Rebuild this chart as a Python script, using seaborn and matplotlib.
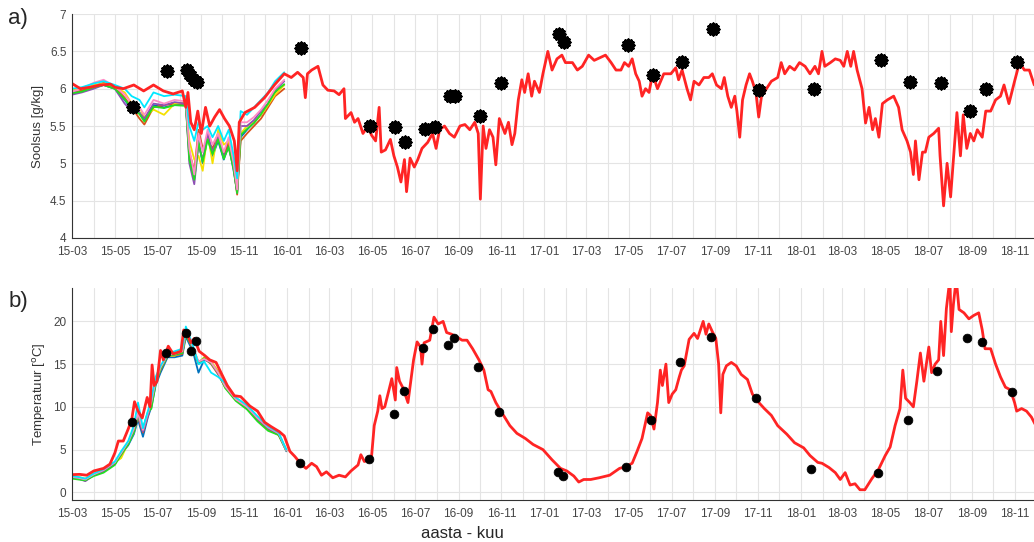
import pandas as pd
import numpy as np
import seaborn as sns
import matplotlib.pyplot as plt
import matplotlib.dates as mdates
from matplotlib.ticker import FuncFormatter

# --- salinity, model (red) ---
sal_dates = [
    '2015-03-01', '2015-03-13', '2015-03-27', '2015-04-10', '2015-04-25', '2015-05-01', '2015-05-13',
    '2015-05-28', '2015-06-11', '2015-06-25', '2015-07-09', '2015-07-23', '2015-08-05', '2015-08-10',
    '2015-08-13', '2015-08-17', '2015-08-22', '2015-08-27', '2015-09-01', '2015-09-07', '2015-09-13',
    '2015-09-20', '2015-09-27', '2015-10-04', '2015-10-11', '2015-10-18', '2015-10-22', '2015-10-25',
    '2015-11-02', '2015-11-16', '2015-11-30', '2015-12-14', '2015-12-28', '2016-01-07', '2016-01-16',
    '2016-01-24', '2016-01-27', '2016-01-30', '2016-02-05', '2016-02-14', '2016-02-21', '2016-02-28',
    '2016-03-08', '2016-03-15', '2016-03-22', '2016-03-24', '2016-04-01', '2016-04-06', '2016-04-11',
    '2016-04-18', '2016-04-25', '2016-04-30', '2016-05-06', '2016-05-11', '2016-05-14', '2016-05-20',
    '2016-05-27', '2016-06-01', '2016-06-06', '2016-06-11', '2016-06-16', '2016-06-19', '2016-06-24',
    '2016-06-30', '2016-07-05', '2016-07-11', '2016-07-19', '2016-07-26', '2016-07-31', '2016-08-05',
    '2016-08-12', '2016-08-19', '2016-08-26', '2016-09-03', '2016-09-10', '2016-09-17', '2016-09-24',
    '2016-09-29', '2016-10-02', '2016-10-06', '2016-10-10', '2016-10-15', '2016-10-20', '2016-10-24',
    '2016-10-29', '2016-11-06', '2016-11-11', '2016-11-16', '2016-11-20', '2016-11-25', '2016-11-30',
    '2016-12-04', '2016-12-09', '2016-12-14', '2016-12-18', '2016-12-25', '2016-12-30', '2017-01-06',
    '2017-01-12', '2017-01-19', '2017-01-26', '2017-01-31', '2017-02-10', '2017-02-17', '2017-02-24',
    '2017-03-05', '2017-03-13', '2017-03-22', '2017-03-29', '2017-04-06', '2017-04-13', '2017-04-20',
    '2017-04-25', '2017-05-01', '2017-05-06', '2017-05-11', '2017-05-16', '2017-05-20', '2017-05-25',
    '2017-05-30', '2017-06-04', '2017-06-11', '2017-06-20', '2017-06-30', '2017-07-07', '2017-07-11',
    '2017-07-16', '2017-07-23', '2017-07-28', '2017-08-02', '2017-08-09', '2017-08-16', '2017-08-23',
    '2017-08-28', '2017-09-03', '2017-09-10', '2017-09-14', '2017-09-19', '2017-09-24', '2017-09-29',
    '2017-10-02', '2017-10-06', '2017-10-10', '2017-10-15', '2017-10-20', '2017-10-24', '2017-10-29',
    '2017-11-02', '2017-11-06', '2017-11-13', '2017-11-20', '2017-11-29', '2017-12-04', '2017-12-09',
    '2017-12-16', '2017-12-23', '2017-12-30', '2018-01-07', '2018-01-14', '2018-01-21', '2018-01-26',
    '2018-01-31', '2018-02-04', '2018-02-12', '2018-02-19', '2018-02-26', '2018-03-03', '2018-03-08',
    '2018-03-13', '2018-03-17', '2018-03-22', '2018-03-29', '2018-04-03', '2018-04-08', '2018-04-13',
    '2018-04-17', '2018-04-22', '2018-04-27', '2018-05-04', '2018-05-13', '2018-05-20', '2018-05-25',
    '2018-06-01', '2018-06-06', '2018-06-10', '2018-06-13', '2018-06-18', '2018-06-23', '2018-06-27',
    '2018-07-02', '2018-07-09', '2018-07-16', '2018-07-18', '2018-07-23', '2018-07-28', '2018-08-02',
    '2018-08-06', '2018-08-11', '2018-08-16', '2018-08-20', '2018-08-25', '2018-08-30', '2018-09-04',
    '2018-09-09', '2018-09-16', '2018-09-21', '2018-09-28', '2018-10-05', '2018-10-12', '2018-10-17',
    '2018-10-24', '2018-11-01', '2018-11-08', '2018-11-15', '2018-11-22', '2018-11-29']
sal_red = [
    6.07, 6.00, 6.02, 6.05, 6.06, 6.02, 6.00,
    6.05, 5.97, 6.05, 5.97, 5.93, 5.97, 5.75,
    5.95, 5.55, 5.45, 5.70, 5.40, 5.75, 5.50,
    5.62, 5.72, 5.60, 5.50, 5.30, 4.90, 5.55,
    5.68, 5.75, 5.88, 6.05, 6.20, 6.15, 6.22,
    6.15, 5.88, 6.20, 6.25, 6.30, 6.05, 5.98,
    5.97, 5.92, 6.00, 5.60, 5.68, 5.55, 5.60,
    5.40, 5.50, 5.38, 5.30, 5.75, 5.15, 5.18,
    5.32, 5.10, 4.95, 4.75, 5.05, 4.62, 5.07,
    4.95, 5.05, 5.20, 5.28, 5.40, 5.20, 5.45,
    5.50, 5.40, 5.35, 5.50, 5.52, 5.45, 5.55,
    5.40, 4.52, 5.50, 5.20, 5.45, 5.35, 4.98,
    5.60, 5.40, 5.55, 5.25, 5.40, 5.85, 6.12,
    5.95, 6.20, 5.90, 6.10, 5.95, 6.20, 6.50,
    6.25, 6.40, 6.45, 6.35, 6.35, 6.25, 6.30,
    6.45, 6.38, 6.42, 6.45, 6.35, 6.25, 6.25,
    6.35, 6.30, 6.40, 6.20, 6.10, 5.90, 6.00,
    5.95, 6.20, 6.00, 6.20, 6.20, 6.28, 6.12,
    6.25, 6.00, 5.85, 6.10, 6.05, 6.15, 6.15,
    6.20, 6.05, 6.00, 6.15, 5.90, 5.75, 5.90,
    5.70, 5.35, 5.85, 6.05, 6.20, 6.10, 5.95,
    5.62, 5.90, 6.00, 6.10, 6.15, 6.35, 6.20,
    6.30, 6.25, 6.35, 6.30, 6.20, 6.30, 6.20,
    6.50, 6.30, 6.35, 6.40, 6.38, 6.30, 6.50,
    6.30, 6.50, 6.25, 6.00, 5.54, 5.75, 5.45,
    5.60, 5.35, 5.80, 5.85, 5.90, 5.75, 5.45,
    5.30, 5.15, 4.85, 5.30, 4.78, 5.15, 5.15,
    5.35, 5.40, 5.47, 5.10, 4.43, 5.00, 4.55,
    5.05, 5.68, 5.10, 5.65, 5.20, 5.40, 5.30,
    5.45, 5.35, 5.70, 5.70, 5.85, 5.90, 6.05,
    5.80, 6.10, 6.35, 6.25, 6.25, 6.05]

# --- salinity, observations (black stars) ---
sal_obs_dates = [
    '2015-05-27', '2015-07-14', '2015-08-11', '2015-08-16', '2015-08-22', '2015-08-26', '2016-01-21',
    '2016-04-28', '2016-06-03', '2016-06-17', '2016-07-15', '2016-07-29', '2016-08-20', '2016-08-27',
    '2016-10-02', '2016-11-01', '2017-01-22', '2017-01-29', '2017-04-30', '2017-06-04', '2017-07-16',
    '2017-08-29', '2017-11-02', '2018-01-19', '2018-04-25', '2018-06-05', '2018-07-20', '2018-08-30',
    '2018-09-21', '2018-11-05']
sal_obs = [
    5.76, 6.24, 6.25, 6.19, 6.12, 6.09, 6.54,
    5.50, 5.49, 5.29, 5.46, 5.49, 5.90, 5.90,
    5.63, 6.08, 6.73, 6.62, 6.58, 6.18, 6.36,
    6.80, 5.98, 5.99, 6.39, 6.09, 6.08, 5.70,
    5.99, 6.36]

# --- salinity, ensemble members 2015 ---
ens_sal_dates = [
    '2015-03-01', '2015-03-15', '2015-04-01', '2015-04-15', '2015-05-01', '2015-05-15', '2015-05-25',
    '2015-06-05', '2015-06-12', '2015-06-25', '2015-07-10', '2015-07-25', '2015-08-10', '2015-08-15',
    '2015-08-22', '2015-08-28', '2015-09-03', '2015-09-10', '2015-09-17', '2015-09-25', '2015-10-03',
    '2015-10-10', '2015-10-17', '2015-10-22', '2015-10-27', '2015-11-05', '2015-11-15', '2015-11-25',
    '2015-12-05', '2015-12-15', '2015-12-28']
sal_blue = [5.95, 5.97, 6.02, 6.05, 6.00, 5.85, 5.72, 5.68, 5.58, 5.78, 5.75, 5.78, 5.78, 5.10, 4.80, 5.30,
            5.00, 5.35, 5.10, 5.30, 5.05, 5.25, 4.90, 4.62, 5.35, 5.45, 5.55, 5.65, 5.80, 5.95, 6.05]
sal_orange = [5.93, 5.98, 6.03, 6.08, 6.02, 5.88, 5.75, 5.60, 5.52, 5.75, 5.78, 5.80, 5.80, 5.15, 4.90, 5.45,
              5.20, 5.30, 5.20, 5.40, 5.10, 5.30, 4.95, 4.58, 5.30, 5.40, 5.50, 5.60, 5.75, 5.90, 6.00]
sal_yellow = [5.98, 6.00, 6.05, 6.07, 6.02, 5.95, 5.80, 5.75, 5.62, 5.72, 5.65, 5.80, 5.82, 5.30, 5.05, 5.10,
              4.90, 5.40, 5.00, 5.45, 5.25, 5.30, 5.00, 4.70, 5.40, 5.50, 5.55, 5.65, 5.78, 5.92, 6.05]
sal_purple = [5.92, 5.95, 6.00, 6.05, 6.00, 5.80, 5.70, 5.68, 5.60, 5.80, 5.78, 5.82, 5.80, 5.00, 4.72, 5.25,
              5.05, 5.40, 5.15, 5.35, 5.10, 5.20, 4.95, 4.60, 5.50, 5.50, 5.58, 5.70, 5.80, 5.98, 6.10]
sal_green = [5.94, 5.96, 6.02, 6.05, 6.00, 5.86, 5.74, 5.66, 5.56, 5.76, 5.74, 5.78, 5.77, 5.05, 4.78, 5.28,
             5.02, 5.32, 5.12, 5.32, 5.06, 5.22, 4.92, 4.60, 5.38, 5.46, 5.54, 5.66, 5.80, 5.96, 6.06]
sal_pink = [5.96, 6.00, 6.08, 6.12, 6.03, 5.92, 5.80, 5.75, 5.65, 5.85, 5.80, 5.85, 5.83, 5.20, 4.85, 5.40,
            5.15, 5.45, 5.25, 5.40, 5.15, 5.35, 5.00, 4.65, 5.55, 5.55, 5.62, 5.72, 5.85, 6.00, 6.12]
sal_cyan = [6.00, 6.02, 6.07, 6.10, 6.05, 6.00, 5.90, 5.85, 5.75, 5.95, 5.90, 5.92, 5.90, 5.50, 5.30, 5.55,
            5.45, 5.50, 5.35, 5.50, 5.30, 5.45, 5.10, 4.80, 5.70, 5.65, 5.75, 5.85, 5.95, 6.10, 6.22]

# --- temperature, model (red) ---
temp_dates = [
    '2015-03-01', '2015-03-12', '2015-03-22', '2015-04-01', '2015-04-15', '2015-04-24', '2015-05-01',
    '2015-05-06', '2015-05-13', '2015-05-20', '2015-05-25', '2015-05-29', '2015-06-03', '2015-06-09',
    '2015-06-16', '2015-06-20', '2015-06-23', '2015-06-26', '2015-06-30', '2015-07-05', '2015-07-09',
    '2015-07-16', '2015-07-23', '2015-08-03', '2015-08-07', '2015-08-12', '2015-08-17', '2015-08-22',
    '2015-08-29', '2015-09-06', '2015-09-13', '2015-09-22', '2015-09-29', '2015-10-08', '2015-10-18',
    '2015-10-27', '2015-11-09', '2015-11-20', '2015-11-30', '2015-12-09', '2015-12-21', '2015-12-28',
    '2016-01-05', '2016-01-12', '2016-01-21', '2016-01-28', '2016-02-05', '2016-02-12', '2016-02-19',
    '2016-02-26', '2016-03-06', '2016-03-15', '2016-03-24', '2016-04-01', '2016-04-11', '2016-04-15',
    '2016-04-20', '2016-04-30', '2016-05-04', '2016-05-09', '2016-05-12', '2016-05-15', '2016-05-19',
    '2016-05-25', '2016-05-29', '2016-06-03', '2016-06-05', '2016-06-09', '2016-06-14', '2016-06-21',
    '2016-06-29', '2016-07-04', '2016-07-09', '2016-07-11', '2016-07-14', '2016-07-22', '2016-07-28',
    '2016-08-03', '2016-08-10', '2016-08-15', '2016-08-22', '2016-08-29', '2016-09-06', '2016-09-13',
    '2016-09-21', '2016-09-30', '2016-10-07', '2016-10-13', '2016-10-17', '2016-10-24', '2016-11-04',
    '2016-11-13', '2016-11-23', '2016-12-05', '2016-12-16', '2016-12-30', '2017-01-12', '2017-01-24',
    '2017-02-02', '2017-02-12', '2017-02-19', '2017-02-26', '2017-03-08', '2017-03-20', '2017-04-04',
    '2017-04-18', '2017-04-27', '2017-05-06', '2017-05-13', '2017-05-20', '2017-05-28', '2017-06-01',
    '2017-06-06', '2017-06-11', '2017-06-15', '2017-06-18', '2017-06-23', '2017-06-27', '2017-07-02',
    '2017-07-07', '2017-07-12', '2017-07-15', '2017-07-19', '2017-07-26', '2017-08-02', '2017-08-07',
    '2017-08-11', '2017-08-15', '2017-08-19', '2017-08-23', '2017-08-28', '2017-09-02', '2017-09-06',
    '2017-09-09', '2017-09-12', '2017-09-17', '2017-09-24', '2017-10-01', '2017-10-08', '2017-10-17',
    '2017-10-24', '2017-10-31', '2017-11-10', '2017-11-20', '2017-11-29', '2017-12-12', '2017-12-23',
    '2018-01-05', '2018-01-14', '2018-01-25', '2018-01-31', '2018-02-10', '2018-02-19', '2018-02-26',
    '2018-03-05', '2018-03-12', '2018-03-19', '2018-03-26', '2018-04-02', '2018-04-12', '2018-04-21',
    '2018-05-01', '2018-05-08', '2018-05-15', '2018-05-22', '2018-05-26', '2018-05-30', '2018-06-05',
    '2018-06-10', '2018-06-15', '2018-06-20', '2018-06-25', '2018-07-02', '2018-07-06', '2018-07-11',
    '2018-07-16', '2018-07-19', '2018-07-23', '2018-07-27', '2018-08-01', '2018-08-03', '2018-08-06',
    '2018-08-10', '2018-08-14', '2018-08-21', '2018-08-28', '2018-09-04', '2018-09-11', '2018-09-16',
    '2018-09-20', '2018-09-28', '2018-10-05', '2018-10-12', '2018-10-19', '2018-10-26', '2018-11-01',
    '2018-11-04', '2018-11-11', '2018-11-18', '2018-11-25', '2018-11-30']
temp_red = [
    2.07, 2.10, 2.00, 2.50, 2.80, 3.30, 4.60,
    6.00, 6.00, 7.40, 8.50, 10.60, 9.50, 8.70,
    11.10, 10.00, 14.90, 12.50, 13.00, 16.60, 15.50,
    17.10, 16.20, 16.50, 19.00, 18.50, 17.50, 18.00,
    16.50, 16.00, 15.50, 15.20, 14.00, 12.50, 11.30,
    11.20, 10.10, 9.50, 8.20, 7.70, 7.10, 6.60,
    4.80, 4.20, 3.30, 2.80, 3.40, 3.00, 2.00,
    2.40, 1.70, 2.00, 1.80, 2.50, 3.20, 4.40,
    3.60, 4.00, 7.80, 9.50, 11.30, 9.80, 10.00,
    12.00, 13.30, 10.80, 14.60, 13.00, 12.20, 10.50,
    15.50, 17.60, 17.00, 15.00, 17.50, 17.80, 20.50,
    19.70, 20.00, 18.70, 18.50, 18.20, 17.80, 17.80,
    16.80, 15.50, 14.30, 12.00, 11.80, 10.50, 9.00,
    7.80, 6.90, 6.30, 5.60, 5.00, 3.80, 2.80,
    2.50, 1.90, 1.20, 1.50, 1.50, 1.70, 2.00,
    2.80, 3.00, 3.40, 4.80, 6.30, 9.30, 9.00,
    7.40, 10.50, 14.30, 12.50, 15.00, 10.50, 11.50,
    12.00, 13.50, 14.30, 14.80, 17.90, 18.60, 18.00,
    19.00, 20.00, 18.50, 19.70, 18.80, 18.00, 15.00,
    9.30, 13.80, 14.80, 15.20, 14.80, 13.80, 13.20,
    11.50, 10.70, 9.80, 9.00, 7.80, 6.80, 5.80,
    5.20, 4.30, 3.50, 3.40, 2.90, 2.30, 1.50,
    2.30, 0.85, 1.00, 0.30, 0.30, 1.60, 2.60,
    4.30, 5.30, 7.80, 9.80, 14.30, 11.00, 10.50,
    10.00, 13.00, 16.30, 13.00, 17.00, 14.00, 15.00,
    15.50, 20.00, 16.00, 21.50, 25.00, 18.80, 22.00,
    25.00, 21.40, 21.00, 20.30, 20.70, 21.00, 19.00,
    16.80, 16.80, 15.00, 13.50, 12.30, 12.00, 10.50,
    9.50, 9.80, 9.50, 8.80, 8.00]

# --- temperature, observations (black dots) ---
temp_obs_dates = [
    '2015-05-25', '2015-07-13', '2015-08-10', '2015-08-17', '2015-08-25', '2016-01-20', '2016-04-27',
    '2016-06-01', '2016-06-15', '2016-07-13', '2016-07-27', '2016-08-17', '2016-08-25', '2016-09-29',
    '2016-10-28', '2017-01-20', '2017-01-27', '2017-04-27', '2017-06-02', '2017-07-13', '2017-08-26',
    '2017-10-29', '2018-01-15', '2018-04-21', '2018-06-03', '2018-07-14', '2018-08-26', '2018-09-16',
    '2018-10-29']
temp_obs = [
    8.2, 16.3, 18.7, 16.5, 17.7, 3.4, 3.9,
    9.2, 11.9, 16.85, 19.1, 17.25, 18.0, 14.7,
    9.45, 2.4, 1.95, 2.95, 8.5, 15.3, 18.15,
    11.0, 2.75, 2.25, 8.5, 14.25, 18.0, 17.6,
    11.7]

# --- temperature, ensemble members 2015 ---
ens_temp_dates = [
    '2015-03-01', '2015-03-10', '2015-03-20', '2015-04-01', '2015-04-15', '2015-05-01', '2015-05-10',
    '2015-05-20', '2015-05-28', '2015-06-03', '2015-06-10', '2015-06-17', '2015-06-22', '2015-06-28',
    '2015-07-05', '2015-07-15', '2015-07-25', '2015-08-05', '2015-08-10', '2015-08-20', '2015-08-28',
    '2015-09-05', '2015-09-15', '2015-09-25', '2015-10-05', '2015-10-20', '2015-11-05', '2015-11-20',
    '2015-12-05', '2015-12-20', '2015-12-31']
temp_blue = [1.7, 1.6, 1.4, 2.0, 2.5, 3.3, 4.5, 5.5, 6.8, 8.5, 6.5, 8.8, 10.0, 12.5, 14.0, 15.8,
             15.8, 16.0, 18.2, 16.5, 14.0, 15.5, 15.2, 14.0, 12.5, 11.0, 10.0, 8.7, 7.5, 6.8, 4.8]
temp_orange = [1.8, 1.7, 1.5, 2.1, 2.6, 3.5, 4.6, 5.8, 7.2, 8.8, 7.0, 9.0, 10.3, 12.8, 14.3, 16.0,
               16.0, 16.2, 18.5, 16.8, 15.0, 15.7, 15.0, 13.8, 12.3, 10.8, 9.8, 8.5, 7.4, 6.7, 4.9]
temp_yellow = [1.9, 1.8, 1.6, 2.2, 2.6, 3.5, 4.0, 5.8, 7.0, 9.0, 7.2, 9.2, 10.5, 13.0, 14.5, 16.0,
               16.0, 16.4, 18.6, 17.0, 15.2, 15.8, 15.3, 14.2, 12.4, 11.0, 10.0, 8.8, 7.6, 6.9, 4.9]
temp_purple = [1.8, 1.6, 1.3, 2.0, 2.5, 3.4, 4.4, 5.7, 7.0, 8.9, 7.1, 9.0, 10.4, 12.9, 14.5, 16.1,
               16.1, 16.3, 18.5, 16.8, 15.2, 15.6, 15.1, 13.9, 12.3, 10.9, 9.9, 8.6, 7.5, 6.8, 4.9]
temp_green = [1.6, 1.5, 1.4, 1.9, 2.3, 3.2, 4.4, 5.6, 7.0, 9.0, 7.5, 9.4, 9.8, 12.7, 14.4, 16.0,
              16.1, 16.3, 18.4, 16.9, 15.1, 15.7, 15.1, 14.0, 12.2, 10.7, 9.7, 8.3, 7.2, 6.7, 4.9]
temp_pink = [1.8, 1.7, 1.5, 2.1, 2.6, 3.5, 4.6, 5.9, 7.4, 9.2, 7.3, 9.3, 10.6, 13.0, 14.6, 16.1,
             16.2, 16.5, 18.8, 17.0, 15.3, 15.6, 15.2, 14.0, 12.4, 10.9, 10.0, 8.7, 7.6, 6.9, 4.9]
temp_cyan = [1.9, 1.8, 1.6, 2.2, 2.7, 3.6, 4.8, 6.0, 7.8, 10.5, 7.5, 9.5, 11.0, 13.5, 14.8, 16.2,
             16.5, 16.8, 19.4, 17.2, 15.0, 15.3, 14.0, 13.5, 12.8, 11.1, 10.2, 8.9, 7.7, 7.0, 5.0]

members = ['blue', 'orange', 'yellow', 'purple', 'green', 'pink', 'cyan']
ens_colors = ['#0072BD', '#D95319', '#F5E000', '#8E4FB5', '#22DD22', '#FF8CC6', '#00E8FF']
red = '#FF2424'


def ens_frame(dates, series):
    parts = []
    for name, vals in zip(members, series):
        parts.append(pd.DataFrame({'date': pd.to_datetime(dates), 'val': vals, 'member': name}))
    return pd.concat(parts, ignore_index=True)


ens_sal = ens_frame(ens_sal_dates, [sal_blue, sal_orange, sal_yellow, sal_purple,
                                    sal_green, sal_pink, sal_cyan])
ens_temp = ens_frame(ens_temp_dates, [temp_blue, temp_orange, temp_yellow, temp_purple,
                                      temp_green, temp_pink, temp_cyan])

sns.set_style('white')
plt.rcParams['font.family'] = ['Liberation Sans', 'DejaVu Sans']

fig = plt.figure(figsize=(10.34, 5.42), dpi=100)
ax1 = fig.add_axes([0.0696, 0.561, 0.932, 0.413])
ax2 = fig.add_axes([0.0696, 0.0775, 0.932, 0.391])

# panel a) salinity
sns.lineplot(data=ens_sal, x='date', y='val', hue='member', palette=ens_colors,
             legend=False, lw=1.3, ax=ax1)
sns.lineplot(x=pd.to_datetime(sal_dates), y=sal_red, color=red, lw=2, ax=ax1)
sns.scatterplot(x=pd.to_datetime(sal_obs_dates), y=sal_obs, marker=(12, 2, 0), s=70,
                color='black', linewidth=1.8, ax=ax1, zorder=5)
ax1.set_ylim(4, 7)
ax1.set_yticks(np.arange(4, 7.01, 0.5))
ax1.set_ylabel('Soolsus [g/kg]', fontsize=9.5, color='#333333')

# panel b) temperature
sns.lineplot(data=ens_temp, x='date', y='val', hue='member', palette=ens_colors,
             legend=False, lw=1.3, ax=ax2)
sns.lineplot(x=pd.to_datetime(temp_dates), y=temp_red, color=red, lw=2, ax=ax2)
sns.scatterplot(x=pd.to_datetime(temp_obs_dates), y=temp_obs, marker='o', s=40,
                color='black', edgecolor='black', ax=ax2, zorder=5)
ax2.set_ylim(-0.9, 23.9)
ax2.set_yticks([0, 5, 10, 15, 20])
ax2.set_ylabel('Temperatuur [$^{\\mathrm{o}}$C]', fontsize=9.5, color='#333333')

for ax in (ax1, ax2):
    ax.set_xlim(pd.Timestamp('2015-03-01'), pd.Timestamp('2018-12-01'))
    ax.xaxis.set_major_locator(mdates.MonthLocator(bymonth=[1, 3, 5, 7, 9, 11]))
    ax.xaxis.set_major_formatter(mdates.DateFormatter('%y-%m'))
    ax.xaxis.set_minor_locator(mdates.MonthLocator())
    ax.yaxis.set_major_formatter(FuncFormatter(lambda v, p: f'{v:g}'))
    ax.grid(True, which='both', color='#e4e4e4', lw=0.8)
    ax.set_axisbelow(True)
    ax.tick_params(which='both', direction='in', length=5, width=0.8, color='#333333',
                   labelsize=8.5, labelcolor='#444444')
    ax.tick_params(axis='x', pad=6)
    ax.tick_params(axis='y', pad=4)
    ax.set_xlabel('')
    sns.despine(ax=ax)
    for s in ('left', 'bottom'):
        ax.spines[s].set_color('#333333')
        ax.spines[s].set_linewidth(0.8)

fig.text(0.008, 0.965, 'a)', fontsize=16, va='center')
fig.text(0.008, 0.443, 'b)', fontsize=16, va='center')
fig.text(0.447, 0.015, 'aasta - kuu', fontsize=12, ha='center', va='center')

fig.savefig('out.png', dpi=100)
